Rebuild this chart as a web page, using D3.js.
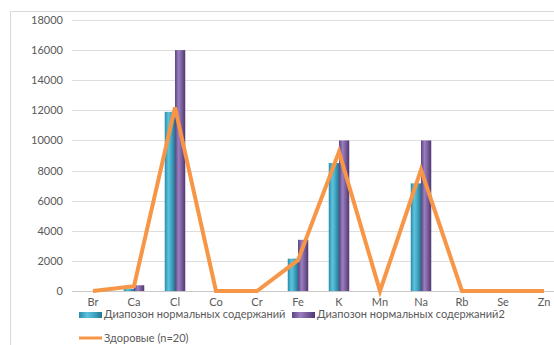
<!DOCTYPE html>
<html><head><meta charset="utf-8">
<script src="https://cdn.jsdelivr.net/npm/d3@7"></script>
<style>body{margin:0;background:#fff}svg{display:block}</style>
</head><body>
<script>
const categories = ["Br","Ca","Cl","Co","Cr","Fe","K","Mn","Na","Rb","Se","Zn"];
const seriesNames = ["Диапозон нормальных содержаний","Диапозон нормальных содержаний2","Здоровые (n=20)"];
const range1 = [0,150,11900,0,0,2150,8500,0,7150,0,0,0];
const range2 = [0,380,16000,0,0,3400,10000,0,10000,0,0,0];
const healthy = [0,320,12200,0,0,2050,9250,0,8050,0,0,0];
const yTicks = [0,2000,4000,6000,8000,10000,12000,14000,16000,18000];

const W=554,H=345;
const svg=d3.select("body").append("svg").attr("width",W).attr("height",H);
const font="Lato, 'Open Sans', sans-serif";
const defs=svg.append("defs");
function grad(id,stops){
  const g=defs.append("linearGradient").attr("id",id).attr("x1","0").attr("x2","1").attr("y1","0").attr("y2","0");
  stops.forEach(s=>g.append("stop").attr("offset",s[0]).attr("stop-color",s[1]));
}
grad("gc",[[0,"#2a8aa6"],[0.35,"#5cc3df"],[0.6,"#48acc8"],[1,"#1f7791"]]);
grad("gp",[[0,"#5d4380"],[0.35,"#9a7fc0"],[0.6,"#8064a2"],[1,"#4f3770"]]);

svg.append("rect").attr("x",10.5).attr("y",11.5).attr("width",600).attr("height",400)
  .attr("fill","none").attr("stroke","#d9d9d9");

const x=d3.scaleBand().domain(categories).range([72.5,564.5]).paddingInner(0.5).paddingOuter(0.25);
const xs=d3.scaleBand().domain([0,1]).range([0,x.bandwidth()]);
const y=d3.scaleLinear().domain([0,18000]).range([291,20]);

const grid=svg.append("g");
yTicks.forEach(t=>{
  grid.append("line").attr("x1",72).attr("x2",W).attr("y1",Math.round(y(t))+0.5).attr("y2",Math.round(y(t))+0.5)
    .attr("stroke",t===0?"#c8c8c8":"#dedede").attr("stroke-width",1);
});
const yAxis=d3.axisLeft(y).tickValues(yTicks).tickSize(0).tickPadding(0).tickFormat(d3.format("d"));
const ga=svg.append("g").attr("transform","translate(63,0)").call(yAxis);
ga.select(".domain").remove();
ga.selectAll("text").attr("font-family",font).attr("font-size",11).attr("fill","#595959");

const xAxis=d3.axisBottom(x).tickSize(0).tickPadding(0);
const gx=svg.append("g").attr("transform","translate(0,298)").call(xAxis);
gx.select(".domain").remove();
gx.selectAll("text").attr("font-family",font).attr("font-size",11).attr("fill","#595959");

const bars=svg.append("g");
[range1,range2].forEach((vals,si)=>{
  bars.selectAll(".b"+si).data(categories.map((c,i)=>({c,v:vals[i]}))).enter().append("rect")
    .attr("x",d=>x(d.c)+xs(si)).attr("width",xs.bandwidth())
    .attr("y",d=>y(d.v)).attr("height",d=>y(0)-y(d.v))
    .attr("fill",si===0?"url(#gc)":"url(#gp)");
});

const line=d3.line().x((d,i)=>x(categories[i])+x.bandwidth()/2).y(d=>y(d));
svg.append("path").datum(healthy).attr("d",line).attr("fill","none")
  .attr("stroke","#f79646").attr("stroke-width",4).attr("stroke-linejoin","miter");

// legend
const lg=svg.append("g").attr("font-family",font).attr("font-size",11).attr("fill","#595959");
lg.append("rect").attr("x",79).attr("y",312).attr("width",23).attr("height",6).attr("fill","url(#gc)");
lg.append("text").attr("x",104).attr("y",318).text(seriesNames[0]);
lg.append("rect").attr("x",292).attr("y",312).attr("width",23).attr("height",6).attr("fill","url(#gp)");
lg.append("text").attr("x",317).attr("y",318).text(seriesNames[1]);
lg.append("line").attr("x1",79).attr("x2",102).attr("y1",338).attr("y2",338).attr("stroke","#f79646").attr("stroke-width",3);
lg.append("text").attr("x",104).attr("y",342).text(seriesNames[2]);
</script>
</body></html>
